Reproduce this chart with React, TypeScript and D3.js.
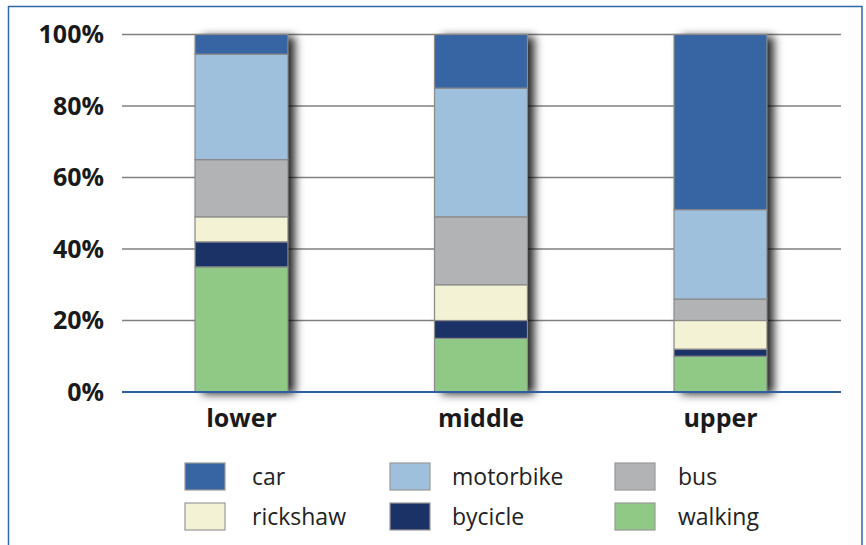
import React from "react";
import * as d3 from "d3";

const categories = ["lower", "middle", "upper"];
const seriesKeys = ["walking", "bycicle", "rickshaw", "bus", "motorbike", "car"];
const walking = [35, 15, 10];
const bycicle = [7, 5, 2];
const rickshaw = [7, 10, 8];
const bus = [16, 19, 6];
const motorbike = [29.5, 36, 25];
const car = [5.5, 15, 49];
const yTicks = [0, 20, 40, 60, 80, 100];
const legendOrder = ["car", "motorbike", "bus", "rickshaw", "bycicle", "walking"];

const colors: Record<string, string> = {
  car: "#3764a2",
  motorbike: "#9fc0dc",
  bus: "#b1b3b4",
  rickshaw: "#f3f2d4",
  bycicle: "#1b3266",
  walking: "#90c985",
};

const valuesByKey: Record<string, number[]> = { walking, bycicle, rickshaw, bus, motorbike, car };

export default function App() {
  const W = 866, H = 545;
  const y = d3.scaleLinear().domain([0, 100]).range([392, 34.5]);
  const x = d3.scaleBand<string>().domain(categories).range([122, 840]).paddingInner(0.612).paddingOuter(0.305);
  const table = categories.map((c, i) => {
    const row: any = { cat: c };
    seriesKeys.forEach((k) => (row[k] = valuesByKey[k][i]));
    return row;
  });
  const stacked = d3.stack<any>().keys(seriesKeys)(table);
  const font = "'Open Sans', 'Noto Sans', sans-serif";

  const legendCols = [185, 390, 615];
  const legendTextX = [252, 452, 678];
  const legendRows = [463, 503];

  return (
    <svg width={W} height={H} style={{ position: "absolute", left: 0, top: 0, background: "#fff" }} fontFamily={font}>
      <defs>
        <filter id="shadow" x="-30%" y="-10%" width="160%" height="120%">
          <feDropShadow dx="7" dy="2" stdDeviation="5" floodColor="#000" floodOpacity="0.85" />
        </filter>
      </defs>
      <rect x={8.5} y={6.5} width={853.5} height={600} fill="none" stroke="#2e6aa8" strokeWidth={1.5} />
      {yTicks.filter((t) => t > 0).map((t) => (
        <line key={t} x1={122} x2={841} y1={y(t)} y2={y(t)} stroke="#808080" strokeWidth={1.3} />
      ))}
      {yTicks.map((t) => (
        <text key={t} x={104} y={y(t) + 8.5} textAnchor="end" fontSize={25} fontWeight={700} fill="#1a1a1a">
          {t}%
        </text>
      ))}
      {categories.map((c) => (
        <rect key={c} x={x(c)} y={y(100)} width={x.bandwidth()} height={y(0) - y(100)} fill="#fff" filter="url(#shadow)" />
      ))}
      {stacked.map((s) =>
        s.map((d, i) => (
          <rect
            key={s.key + i}
            x={x(categories[i])}
            y={y(d[1])}
            width={x.bandwidth()}
            height={y(d[0]) - y(d[1])}
            fill={colors[s.key]}
            stroke="#8a8a8a"
            strokeWidth={1.2}
          />
        ))
      )}
      <line x1={122} x2={841} y1={y(0)} y2={y(0)} stroke="#2e5fa3" strokeWidth={2.2} />
      {categories.map((c) => (
        <text key={c} x={(x(c) as number) + x.bandwidth() / 2} y={427} textAnchor="middle" fontSize={25} fontWeight={700} fill="#1a1a1a">
          {c}
        </text>
      ))}
      {legendOrder.map((k, i) => {
        const col = i % 3;
        const cx = legendCols[col];
        const ry = legendRows[Math.floor(i / 3)];
        return (
          <g key={k}>
            <rect x={cx} y={ry} width={40} height={27} fill={colors[k]} stroke="#999" strokeWidth={1.2} />
            <text x={legendTextX[col]} y={ry + 22} fontSize={23} fill="#222">
              {k}
            </text>
          </g>
        );
      })}
    </svg>
  );
}
